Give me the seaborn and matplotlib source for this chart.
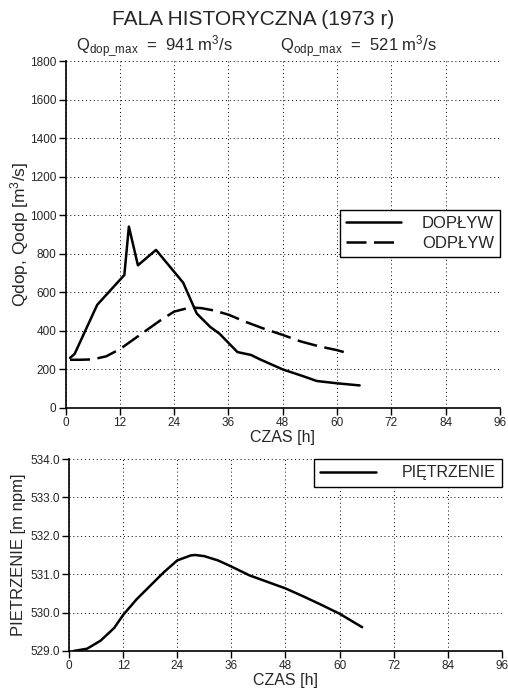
import matplotlib
matplotlib.use("Agg")
import matplotlib.pyplot as plt
import seaborn as sns
import pandas as pd

# Data
dop_t = [1, 2, 7, 13, 14, 16, 20, 26, 29, 32, 34, 38, 41, 43, 48, 52.5, 55.5, 60, 65]
dop_q = [260, 280, 535, 690, 941, 740, 820, 650, 490, 420, 386, 290, 275, 252, 200, 165, 140, 128, 117]
odp_t = [1, 3, 6, 9, 12, 15, 18, 21, 24, 27, 28, 30, 33, 36, 40, 44, 48, 52, 56, 60, 63]
odp_q = [250, 250, 252, 268, 305, 355, 405, 455, 500, 518, 521, 518, 505, 484, 445, 410, 379, 345, 320, 300, 280]
piet_t = [1, 4, 7, 10, 12, 15, 18, 21, 24, 27, 28, 30, 33, 36, 40, 44, 48, 52, 56, 60, 63, 65]
piet_h = [529.0, 529.06, 529.27, 529.6, 529.94, 530.35, 530.7, 531.05, 531.36, 531.49, 531.5,
          531.47, 531.36, 531.2, 530.97, 530.8, 530.63, 530.42, 530.2, 529.97, 529.76, 529.62]
x_ticks = [0, 12, 24, 36, 48, 60, 72, 84, 96]
q_ticks = [0, 200, 400, 600, 800, 1000, 1200, 1400, 1600, 1800]
h_ticks = [529.0, 530.0, 531.0, 532.0, 533.0, 534.0]

sns.set_theme(style="white")
plt.rcParams['font.family'] = ['Liberation Sans', 'DejaVu Sans']
plt.rcParams['mathtext.fontset'] = 'custom'
plt.rcParams['mathtext.rm'] = 'Liberation Sans'
plt.rcParams['mathtext.it'] = 'Liberation Sans'

fig = plt.figure(figsize=(5.08, 6.91), dpi=100)
ax1 = fig.add_axes([0.129, 0.4096, 0.855, 0.5021])
ax2 = fig.add_axes([0.136, 0.0579, 0.852, 0.2778])

df_dop = pd.DataFrame({"t": dop_t, "q": dop_q})
df_odp = pd.DataFrame({"t": odp_t, "q": odp_q})
df_p = pd.DataFrame({"t": piet_t, "h": piet_h})

sns.lineplot(data=df_dop, x="t", y="q", ax=ax1, color="black", lw=1.8, label="DOPŁYW")
sns.lineplot(data=df_odp, x="t", y="q", ax=ax1, color="black", lw=1.8, label="ODPŁYW")
ax1.lines[1].set_dashes([8, 3])
sns.lineplot(data=df_p, x="t", y="h", ax=ax2, color="black", lw=1.8, label="PIĘTRZENIE")

for ax, yt, fmt in [(ax1, q_ticks, "{:.0f}"), (ax2, h_ticks, "{:.1f}")]:
    ax.set_xlim(0, 96)
    ax.set_ylim(yt[0], yt[-1])
    ax.set_xticks(x_ticks)
    ax.set_yticks(yt)
    ax.set_yticklabels([fmt.format(v) for v in yt])
    ax.grid(True, color="black", linestyle=(0, (1, 3)), linewidth=0.7)
    for s in ["top", "right"]:
        ax.spines[s].set_visible(False)
    for s in ["left", "bottom"]:
        ax.spines[s].set_color("black")
        ax.spines[s].set_linewidth(1.2)
    ax.tick_params(axis="both", direction="out", length=5, width=1, color="black",
                   labelsize=8.5, left=True, bottom=True, pad=1.5)
    ax.set_xlabel("CZAS [h]", fontsize=11.5, labelpad=1)

leg1 = ax1.legend(loc="upper right", bbox_to_anchor=(1.0, 0.571), borderaxespad=0,
                  fontsize=12, frameon=True, fancybox=False, handlelength=3.3,
                  handletextpad=1.25, labelspacing=0.3, borderpad=0.35,
                  edgecolor="black", framealpha=1)
leg1.get_frame().set_linewidth(1.0)
leg2 = ax2.legend(loc="upper right", bbox_to_anchor=(1.0, 1.0), borderaxespad=0,
                  fontsize=11.5, frameon=True, fancybox=False, handlelength=3.5,
                  handletextpad=1.6, borderpad=0.4,
                  edgecolor="black", framealpha=1)
leg2.get_frame().set_linewidth(1.0)

ax1.set_ylabel("Qdop, Qodp [m$^3$/s]", fontsize=12.5)
ax1.yaxis.set_label_coords(-0.08, 0.5)
ax2.set_ylabel("PIETRZENIE [m npm]", fontsize=12)
ax2.yaxis.set_label_coords(-0.10, 0.5)

fig.text(0.498, 0.972, "FALA HISTORYCZNA (1973 r)", ha="center", va="center", fontsize=15)
fig.text(0.305, 0.934, r"Q$_{\mathrm{dop\_max}}$  =  941 m$^3$/s", ha="center", va="center", fontsize=12)
fig.text(0.705, 0.934, r"Q$_{\mathrm{odp\_max}}$  =  521 m$^3$/s", ha="center", va="center", fontsize=12)

fig.savefig("out.png", dpi=100)
